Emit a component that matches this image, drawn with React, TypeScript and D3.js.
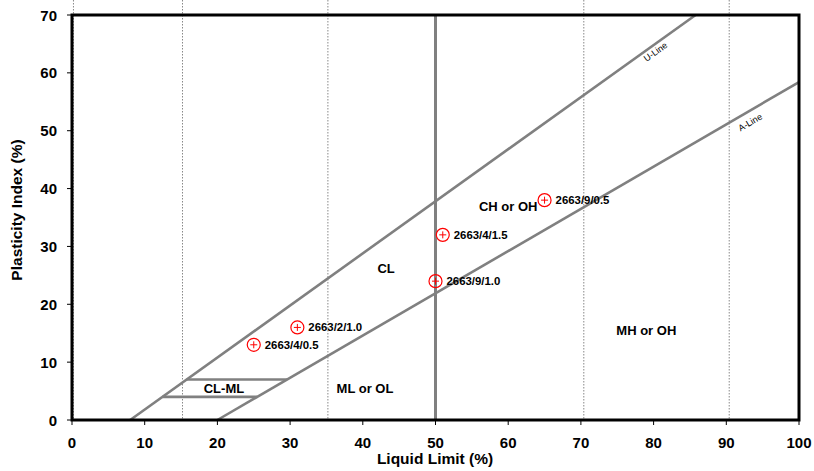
import React from "react";
import * as d3 from "d3";

const xTicks = [0, 10, 20, 30, 40, 50, 60, 70, 80, 90, 100];
const yTicks = [0, 10, 20, 30, 40, 50, 60, 70];
const gridX = [0.2, 15.2, 35.2, 70.4, 90.4];

const uLine: [number, number][] = [[8, 0], [85.78, 70]];
const aLine: [number, number][] = [[20, 0], [100, 58.4]];
const clml4: [number, number][] = [[12.44, 4], [25.48, 4]];
const clml7: [number, number][] = [[15.78, 7], [29.59, 7]];
const llLine: [number, number][] = [[50, 0], [50, 70]];

const sampleLL = [25, 31, 50, 51, 65];
const samplePI = [13, 16, 24, 32, 38];
const sampleNames = ["2663/4/0.5", "2663/2/1.0", "2663/9/1.0", "2663/4/1.5", "2663/9/0.5"];

const zoneNames = ["CL-ML", "ML or OL", "CL", "CH or OH", "MH or OH"];
const zoneLL = [20.9, 40.3, 43.2, 60, 79];
const zonePI = [5.5, 5.5, 26.3, 37, 15.6];

export default function App() {
  const W = 814, H = 471;
  const x = d3.scaleLinear().domain([0, 100]).range([72, 799]);
  const y = d3.scaleLinear().domain([0, 70]).range([420, 15]);
  const line = d3.line<[number, number]>().x(d => x(d[0])).y(d => y(d[1]));
  const font = "'Liberation Sans', Arial, sans-serif";
  const uAng = Math.atan2(y(0) - y(0.9), x(1) - x(0)) * 180 / Math.PI;
  const aAng = Math.atan2(y(0) - y(0.73), x(1) - x(0)) * 180 / Math.PI;
  const gray = "#808080";
  return (
    <svg width={W} height={H} style={{ position: "absolute", left: 0, top: 0, background: "#fff" }} fontFamily={font}>
      {gridX.map((g, i) => (
        <line key={i} x1={x(g)} x2={x(g)} y1={0} y2={y(0)} stroke="#888" strokeWidth={1} strokeDasharray="1.5,1.5" />
      ))}
      <path d={line(llLine) || ""} stroke={gray} strokeWidth={3} fill="none" />
      <path d={line(uLine) || ""} stroke={gray} strokeWidth={2.6} fill="none" />
      <path d={line(aLine) || ""} stroke={gray} strokeWidth={2.6} fill="none" />
      <path d={line(clml4) || ""} stroke={gray} strokeWidth={2.6} fill="none" />
      <path d={line(clml7) || ""} stroke={gray} strokeWidth={2.6} fill="none" />
      <rect x={x(0)} y={y(70)} width={x(100) - x(0)} height={y(0) - y(70)} fill="none" stroke="#000" strokeWidth={3} />
      {xTicks.map(t => (
        <g key={t}>
          <line x1={x(t)} x2={x(t)} y1={y(0)} y2={y(0) + 5} stroke="#000" strokeWidth={1} />
          <text x={x(t)} y={448} textAnchor="middle" fontSize={15} fontWeight="bold">{t}</text>
        </g>
      ))}
      {yTicks.map(t => (
        <g key={t}>
          <line x1={x(0) - 5} x2={x(0)} y1={y(t)} y2={y(t)} stroke="#000" strokeWidth={1} />
          <text x={57} y={y(t) + 5.5} textAnchor="end" fontSize={15} fontWeight="bold">{t}</text>
        </g>
      ))}
      <text x={435} y={464} textAnchor="middle" fontSize={15.5} fontWeight="bold">Liquid Limit (%)</text>
      <text transform={`translate(22,210) rotate(-90)`} textAnchor="middle" fontSize={15.5} fontWeight="bold">Plasticity Index (%)</text>
      <text transform={`translate(${x(80.5)},${y(63.2)}) rotate(${-uAng})`} textAnchor="middle" fontSize={9}>U-Line</text>
      <text transform={`translate(${x(93.5)},${y(51)}) rotate(${-aAng})`} textAnchor="middle" fontSize={9}>A-Line</text>
      {zoneNames.map((z, i) => (
        <text key={z} x={x(zoneLL[i])} y={y(zonePI[i]) + 5} textAnchor="middle" fontSize={13} fontWeight="bold">{z}</text>
      ))}
      {sampleLL.map((ll, i) => {
        const cx = x(ll), cy = y(samplePI[i]);
        return (
          <g key={i}>
            <circle cx={cx} cy={cy} r={6.5} fill="none" stroke="#ff0000" strokeWidth={1.2} />
            <line x1={cx - 3.5} x2={cx + 3.5} y1={cy} y2={cy} stroke="#ff0000" strokeWidth={1} />
            <line x1={cx} x2={cx} y1={cy - 3.5} y2={cy + 3.5} stroke="#ff0000" strokeWidth={1} />
            <text x={cx + 11} y={cy + 4} fontSize={11.4} fontWeight="bold">{sampleNames[i]}</text>
          </g>
        );
      })}
    </svg>
  );
}
